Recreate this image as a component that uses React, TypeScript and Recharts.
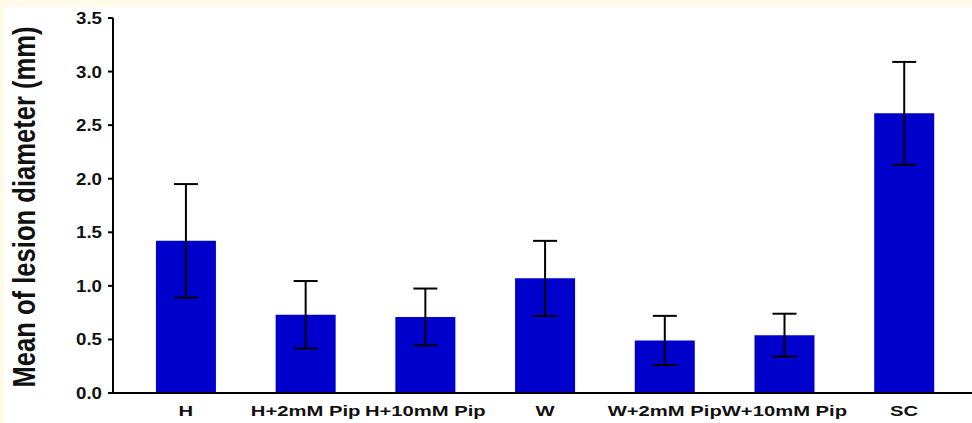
import React from 'react';
import { BarChart, Bar, XAxis, YAxis, ErrorBar, Label } from 'recharts';

const categories = ['H', 'H+2mM Pip', 'H+10mM Pip', 'W', 'W+2mM Pip', 'W+10mM Pip', 'SC'];
const means = [1.42, 0.73, 0.71, 1.07, 0.49, 0.54, 2.61];
const errors = [0.53, 0.315, 0.265, 0.35, 0.23, 0.2, 0.48];
const yTicks = [0, 0.5, 1.0, 1.5, 2.0, 2.5, 3.0, 3.5];

const data = categories.map((name, i) => ({ name, mean: means[i], err: errors[i] }));

const FONT = '"Liberation Sans", Arial, sans-serif';

const YTitle = () => (
  <text
    transform="translate(35,207) rotate(-90) scale(1,1.2)"
    textAnchor="middle"
    fontFamily={FONT}
    fontWeight="bold"
    fontSize={25.6}
    fill="#111"
  >
    Mean of lesion diameter (mm)
  </text>
);

const XTick = (props: any) => {
  const { x, y, payload } = props;
  return (
    <g transform={`translate(${x},${y})`}>
      <text
        transform="scale(1.35,1)"
        textAnchor="middle"
        dy="0.71em"
        fontFamily={FONT}
        fontWeight="bold"
        fontSize={15}
        fill="#111"
      >
        {payload.value}
      </text>
    </g>
  );
};

const YTick = (props: any) => {
  const { x, y, payload } = props;
  return (
    <g transform={`translate(${x},${y})`}>
      <text
        transform="scale(1.1,1)"
        textAnchor="end"
        dy="0.355em"
        fontFamily={FONT}
        fontWeight="bold"
        fontSize={17}
        fill="#111"
      >
        {Number(payload.value).toFixed(1)}
      </text>
    </g>
  );
};

export default function App() {
  return (
    <div style={{ position: 'absolute', left: 0, top: 0, width: 972, height: 423, background: '#FFFBE8' }}>
      <div style={{ position: 'absolute', left: 4, top: 7, right: 0, bottom: 0, background: '#FFFFFF' }} />
      <div style={{ position: 'absolute', left: 0, top: 0 }}>
        <BarChart
          width={972}
          height={423}
          data={data}
          margin={{ top: 18, right: 0, bottom: 0, left: 0 }}
          barCategoryGap="25%"
        >
          <XAxis
            dataKey="name"
            height={30}
            padding={{ left: 13, right: 8 }}
            tickLine={false}
            tickSize={0}
            tickMargin={12}
            axisLine={{ stroke: '#000', strokeWidth: 2 }}
            tick={<XTick />}
            interval={0}
          />
          <YAxis
            width={113}
            domain={[0, 3.5]}
            ticks={yTicks}
            tickSize={5}
            tickMargin={6}
            axisLine={{ stroke: '#000', strokeWidth: 2 }}
            tickLine={{ stroke: '#000', strokeWidth: 2 }}
            tick={<YTick />}
            interval={0}
          >
            <Label content={() => <YTitle />} />
          </YAxis>
          <Bar dataKey="mean" fill="#0000CC" isAnimationActive={false}>
            <ErrorBar dataKey="err" width={12} stroke="#000" strokeWidth={2} direction="y" />
          </Bar>
        </BarChart>
      </div>
    </div>
  );
}
